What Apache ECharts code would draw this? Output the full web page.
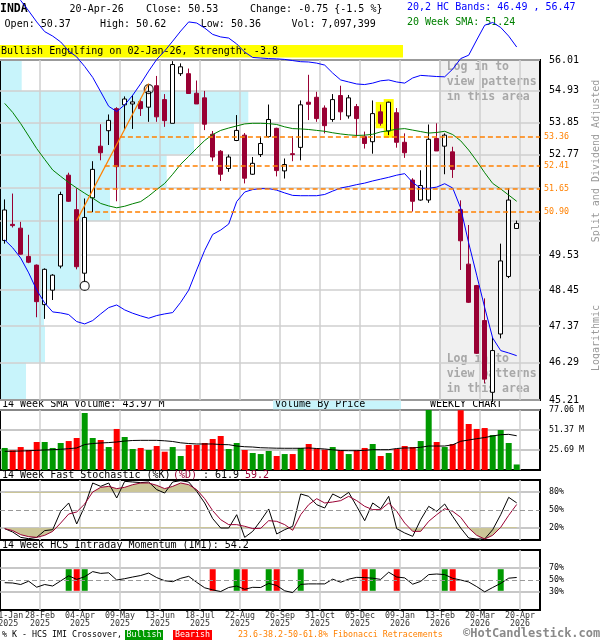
<!DOCTYPE html>
<html>
<head>
<meta charset="utf-8">
<script src="https://cdn.jsdelivr.net/npm/echarts@6/dist/echarts.min.js"></script>
<style>
  html, body { margin: 0; padding: 0; background: #fff; }
  #chart { width: 600px; height: 640px; }
</style>
</head>
<body>
<div id="chart"></div>
<script>
// ---------------- data: INDA weekly, 27-Jan-2025 .. 20-Apr-2026 ----------------
const openP = [49.99, 50.50, 50.38, 49.49, 49.22, 48.01, 48.45, 49.19, 52.09, 50.97,
  48.97, 51.35, 53.05, 53.57, 54.32, 54.45, 54.48, 54.56, 54.37, 55.11,
  54.63, 53.82, 55.53, 55.53, 54.85, 54.69, 53.45, 52.88, 52.31, 53.24,
  53.42, 52.12, 52.77, 53.37, 53.65, 52.23, 52.80, 53.01, 54.54, 54.71,
  54.34, 53.95, 54.77, 54.07, 54.39, 53.37, 53.20, 54.21, 53.56, 54.18,
  53.18, 51.93, 51.28, 51.28, 53.31, 53.05, 52.86, 50.97, 49.25, 48.59,
  47.53, 45.43, 47.13, 48.87, 50.37];
const highP = [51.30, 51.49, 50.58, 50.17, 49.24, 49.12, 48.94, 51.55, 52.17, 51.66,
  51.33, 52.55, 53.79, 54.12, 54.37, 54.74, 54.79, 54.67, 55.17, 55.45,
  54.82, 55.97, 55.89, 55.71, 55.29, 54.93, 53.56, 52.92, 52.77, 54.10,
  53.49, 52.69, 53.37, 54.46, 53.67, 52.64, 53.39, 54.60, 55.49, 54.90,
  54.43, 54.82, 55.11, 54.79, 54.48, 53.54, 54.60, 54.46, 54.56, 54.34,
  53.48, 51.99, 52.25, 53.78, 53.82, 53.48, 53.03, 51.27, 50.48, 48.61,
  48.20, 47.03, 49.89, 51.66, 50.62];
const lowP = [49.89, 50.40, 49.55, 49.28, 47.63, 47.58, 48.15, 49.12, 51.22, 49.09,
  48.71, 50.89, 52.58, 53.09, 51.24, 53.59, 53.63, 54.07, 53.87, 53.87,
  53.70, 53.82, 55.45, 54.84, 54.48, 53.59, 52.55, 51.90, 52.20, 53.22,
  51.82, 52.10, 52.69, 53.33, 52.05, 51.98, 52.55, 52.58, 53.93, 53.87,
  53.48, 53.87, 53.93, 53.98, 53.37, 52.97, 52.80, 53.74, 53.42, 53.00,
  52.66, 50.91, 51.26, 51.19, 52.89, 52.12, 52.00, 49.07, 48.06, 46.54,
  45.69, 45.15, 47.00, 48.82, 50.36];
const closeP = [50.96, 50.46, 49.56, 49.31, 48.10, 49.09, 48.91, 51.46, 51.24, 49.17,
  50.72, 52.28, 52.83, 53.92, 52.37, 54.65, 54.55, 54.32, 54.90, 54.04,
  53.91, 55.85, 55.77, 54.84, 54.48, 53.79, 52.69, 52.12, 52.69, 53.58,
  51.99, 52.48, 53.14, 53.95, 52.24, 52.44, 52.77, 54.45, 54.47, 53.98,
  53.74, 54.63, 54.21, 54.69, 53.98, 53.14, 54.15, 53.82, 54.54, 53.18,
  52.83, 51.24, 51.75, 53.28, 52.89, 53.42, 52.28, 49.98, 48.08, 46.56,
  45.81, 46.64, 49.35, 51.28, 50.53];
// weekly volume, millions of shares
const volumeM = [28.3, 25.3, 29.5, 25.7, 36.0, 36.0, 28.3, 34.7, 37.2, 41.1,
  73.2, 41.1, 38.5, 29.5, 52.7, 42.4, 27.0, 28.3, 25.7, 30.8,
  23.5, 29.5, 18.0, 32.1, 32.1, 34.7, 39.8, 43.7, 27.0, 34.7,
  25.7, 21.8, 20.5, 24.4, 18.0, 20.5, 20.5, 28.3, 33.4, 27.4,
  26.1, 29.5, 25.3, 20.5, 25.3, 28.3, 33.4, 18.0, 21.8, 27.0,
  30.8, 29.5, 37.2, 77.06, 36.0, 29.5, 33.4, 76.8, 59.1, 52.7,
  53.9, 44.9, 51.4, 34.7, 7.097399];
const volumeSma14 = [24.0, 24.1, 24.4, 24.7, 25.3, 25.7, 26.1, 26.6, 27.4, 28.3,
  32.7, 34.0, 34.7, 35.2, 36.0, 37.2, 37.9, 38.1, 38.1, 38.1,
  37.5, 36.6, 34.9, 34.0, 33.4, 33.4, 33.4, 32.7, 32.5, 30.8,
  29.9, 29.5, 28.6, 28.3, 28.0, 27.9, 27.9, 27.9, 28.3, 27.6,
  27.0, 25.9, 25.0, 24.8, 24.8, 25.3, 26.1, 26.1, 26.1, 27.6,
  28.3, 28.3, 29.2, 30.8, 30.8, 30.8, 32.4, 36.9, 38.5, 40.2,
  41.7, 43.7, 45.3, 45.8, 43.97];
const hcUpper = [58.94, 58.54, 58.15, 57.77, 57.37, 57.02, 56.86, 56.65, 56.33, 56.12,
  55.78, 55.40, 54.90, 54.40, 54.22, 54.45, 54.78, 55.18, 55.62, 56.03,
  56.33, 56.68, 57.04, 57.37, 57.33, 57.15, 56.92, 56.83, 56.79, 56.58,
  56.29, 56.10, 56.08, 56.06, 56.05, 56.03, 55.99, 55.95, 55.94, 55.90,
  55.83, 55.55, 55.31, 55.24, 55.17, 55.15, 55.20, 55.28, 55.31, 55.24,
  55.20, 55.38, 55.47, 55.45, 55.43, 55.42, 55.69, 56.06, 56.18, 56.72,
  57.25, 57.35, 57.17, 56.86, 56.47];
const hcLower = [50.01, 49.76, 49.44, 48.98, 48.45, 48.06, 47.79, 47.76, 47.71, 47.50,
  47.43, 47.53, 47.73, 47.92, 48.00, 47.85, 47.75, 47.67, 47.60, 47.68,
  47.73, 47.77, 48.08, 48.45, 49.07, 49.68, 50.18, 50.32, 50.51, 51.23,
  51.54, 51.62, 51.65, 51.65, 51.60, 51.51, 51.43, 51.42, 51.42, 51.42,
  51.46, 51.57, 51.67, 51.72, 51.78, 51.83, 51.90, 51.96, 52.02, 52.09,
  52.14, 51.85, 51.66, 51.66, 51.70, 51.81, 51.67, 51.02, 49.91, 48.91,
  47.92, 47.01, 46.64, 46.57, 46.49];
const sma20 = [54.50, 54.19, 53.81, 53.39, 52.97, 52.61, 52.26, 52.05, 51.85, 51.67,
  51.50, 51.34, 51.17, 51.09, 51.03, 51.08, 51.16, 51.23, 51.41, 51.62,
  51.82, 52.12, 52.45, 52.71, 52.98, 53.24, 53.44, 53.58, 53.66, 53.73,
  53.80, 53.82, 53.82, 53.81, 53.78, 53.70, 53.64, 53.63, 53.61, 53.58,
  53.55, 53.50, 53.46, 53.43, 53.41, 53.42, 53.45, 53.53, 53.57, 53.62,
  53.64, 53.59, 53.54, 53.49, 53.51, 53.55, 53.44, 53.23, 52.92, 52.56,
  52.17, 51.82, 51.64, 51.44, 51.24];
const stochK = [18.9, 13.3, 4.4, 2.2, 4.4, 15.6, 17.2, 47.8, 61.7, 26.7,
  56.1, 95.0, 89.4, 95.0, 70.0, 97.8, 96.7, 95.6, 96.7, 84.0,
  78.3, 96.7, 98.9, 96.7, 81.1, 61.7, 35.6, 20.0, 20.0, 42.2,
  4.4, 14.4, 32.2, 51.7, 10.0, 17.2, 22.8, 76.7, 72.8, 58.9,
  53.3, 76.7, 70.0, 79.4, 56.1, 32.2, 61.7, 52.2, 72.8, 18.9,
  11.7, 6.1, 33.9, 56.1, 47.8, 60.0, 39.4, 20.0, 3.3, 1.7,
  1.7, 17.2, 42.2, 71.1, 61.9];
const stochD = [18.9, 15.6, 8.9, 5.6, 4.4, 7.8, 14.4, 28.3, 43.3, 46.7,
  60.0, 80.0, 87.8, 89.4, 85.6, 87.8, 92.2, 95.0, 95.0, 91.1,
  85.6, 89.4, 95.0, 92.2, 83.9, 68.9, 48.9, 33.9, 25.6, 25.6,
  22.8, 19.0, 19.5, 32.2, 31.1, 25.6, 16.1, 42.2, 58.9, 68.9,
  61.7, 63.3, 65.6, 72.8, 65.6, 56.1, 50.6, 50.6, 61.7, 47.8,
  28.3, 14.4, 14.4, 31.1, 42.2, 52.2, 47.8, 37.8, 20.0, 7.8,
  1.7, 7.8, 21.1, 41.1, 59.2];
const imi = [45.5, 45.0, 42.5, 48.0, 38.0, 42.5, 40.0, 48.5, 57.0, 51.0,
  55.5, 64.0, 61.0, 62.0, 50.0, 52.2, 55.0, 57.5, 61.6, 54.0,
  48.8, 47.2, 52.8, 56.1, 46.1, 37.0, 33.5, 30.8, 37.5, 40.0,
  34.5, 37.8, 37.5, 44.4, 40.8, 32.0, 29.0, 42.7, 43.5, 43.5,
  43.5, 51.4, 46.3, 51.4, 54.4, 54.0, 53.0, 51.0, 63.0, 55.0,
  53.5, 43.0, 47.7, 59.0, 60.0, 59.0, 52.8, 50.0, 46.7, 39.0,
  30.3, 37.5, 44.4, 53.0, 54.2];
// %K / IMI crossover weeks
const crossBull = [8, 10, 29, 33, 37, 46, 55, 62];
const crossBear = [9, 26, 30, 34, 45, 49, 56];
// candles of the flagged pattern, swing points and retracement levels
const patternWeeks = [47, 48];
const swingPoints = [[10, 48.58], [18, 54.99]];
const trendLine = [[9, 50.62], [18, 55.19]];
const fibLevels = [53.36, 52.41, 51.65, 50.90];
const fibStartWeek = [14.4, 12.5, 11.5, 10.3];
// volume by price, one zone between each pair of price ticks (top zone first), millions
const vbpVolumeM = [48.6, 556.4, 434.7, 373.5, 246.5, 179.3, 179.3, 98.6, 100.8, 58.3];
// axis ticks
const priceTicks = [56.01, 54.93, 53.85, 52.77, 51.69, 50.61, 49.53, 48.45, 47.37, 46.29, 45.21];
const priceLabels = [56.01, 54.93, 53.85, 52.77, 49.53, 48.45, 47.37, 46.29, 45.21];
const volTicks = [25.69, 51.37, 77.06];
const stochTicks = [20, 50, 80];
const imiTicks = [30, 50, 70];
const xTickDates = ['31-Jan', '28-Feb', '04-Apr', '09-May', '13-Jun', '18-Jul', '22-Aug',
  '26-Sep', '31-Oct', '05-Dec', '09-Jan', '13-Feb', '20-Mar', '20-Apr'];
const xTickYears = ['2025', '2025', '2025', '2025', '2025', '2025', '2025',
  '2025', '2025', '2025', '2026', '2026', '2026', '2026'];
const lastWeekLabel = '20-Apr-26';
const patternText = 'Bullish Engulfing on 02-Jan-26, Strength: -3.8';

// ---------------- layout / style ----------------
const MONO = '"DejaVu Sans Mono", "Liberation Mono", monospace';
const DOWN = '#990033', BAND = '#0000ff', SMA = '#008000', FIB = '#ff8000';
const VUP = '#009900', VDN = '#ff0000', VBP = '#c8f4fb', KHAKI = '#cbc597';
const GRID_C = '#cfcfcf', LEVEL_C = '#b4b4b4';
const X_MIN = -0.5875, X_MAX = 66.9125;            // 8 px per week over 540 px
const W = 540;
const ln = Math.log;
const N = closeP.length;
const last = N - 1;

// vertical grid every 5 weeks, first label at the left edge
const gridWeeks = [];
for (let k = 1; k <= 13; k++) gridWeeks.push(X_MIN + 5 * k);
const labelWeeks = [0.45].concat(gridWeeks);
const loginStart = gridWeeks[10];

function xLabel(v) {
  let best = 0, d = 1e9;
  labelWeeks.forEach((w, k) => { const dd = Math.abs(w - v); if (dd < d) { d = dd; best = k; } });
  return xTickDates[best] + '\n' + xTickYears[best];
}

function xAxisFor(gridIndex, opts) {
  opts = opts || {};
  return {
    type: 'value', gridIndex: gridIndex, min: X_MIN, max: X_MAX,
    show: opts.hidden ? false : true,
    axisLine: { show: false },
    axisTick: { show: false, customValues: gridWeeks },
    splitLine: { show: true, lineStyle: { color: GRID_C, width: 1.5 } },
    axisLabel: opts.labels ? {
      show: true, customValues: labelWeeks, formatter: xLabel,
      fontFamily: MONO, fontSize: 8.3, lineHeight: 8, margin: 2, color: '#333'
    } : { show: false }
  };
}

function gridRect(top, height, show) {
  return { left: 0, top: top, width: W, height: height, show: !!show,
    borderColor: '#000', borderWidth: 2, containLabel: false, outerBoundsMode: 'none' };
}

function txt(x, y, text, o) {
  o = o || {};
  return {
    type: 'text', x: x, y: y, silent: true, rotation: o.rotation || 0,
    style: {
      text: text, fill: o.color || '#000',
      font: (o.weight || 'normal') + ' ' + (o.size || 10) + 'px ' + MONO,
      align: o.align || 'left', verticalAlign: 'middle'
    }
  };
}

// ---------------- series data ----------------
const candleData = closeP.map((c, i) => [i, ln(openP[i]), ln(c), ln(lowP[i]), ln(highP[i])]);
const lineOf = (arr, f) => arr.map((v, i) => [i, f ? f(v) : v]);
const volData = volumeM.map((v, i) => ({
  value: [i, v], itemStyle: { color: closeP[i] >= openP[i] ? VUP : VDN }
}));
const vbpData = vbpVolumeM.map((v, k) => [ln(priceTicks[k + 1]), ln(priceTicks[k]), v]);
const crossData = crossBull.map(i => [i, 1]).concat(crossBear.map(i => [i, -1]));

// ---------------- header values ----------------
const chg = closeP[last] - closeP[last - 1];
const chgPct = chg / closeP[last - 1] * 100;
const volText = Math.round(volumeM[last] * 1e6).toLocaleString('en-US');

const option = {
  animation: false,
  backgroundColor: '#fff',
  grid: [
    gridRect(60, 340, true),   // 0 price
    gridRect(60, 340, false),  // 1 volume by price overlay
    gridRect(410, 60, true),   // 2 volume
    gridRect(480, 60, true),   // 3 stochastic
    gridRect(480, 12, false),  // 4 stochastic 80..100 shading
    gridRect(528, 12, false),  // 5 stochastic 0..20 shading
    gridRect(550, 60, true)    // 6 IMI
  ],
  xAxis: [
    xAxisFor(0),
    { type: 'value', gridIndex: 1, min: 0, max: 1210, show: false },
    xAxisFor(2),
    xAxisFor(3),
    xAxisFor(4, { hidden: true }),
    xAxisFor(5, { hidden: true }),
    xAxisFor(6, { labels: true })
  ],
  yAxis: [
    {
      type: 'value', gridIndex: 0, position: 'right', min: ln(45.21), max: ln(56.01),
      axisLine: { show: false },
      axisTick: { show: false, customValues: priceTicks.map(ln) },
      splitLine: { show: true, lineStyle: { color: GRID_C, width: 1.5 } },
      axisLabel: {
        show: true, customValues: priceLabels.map(ln),
        formatter: v => Math.exp(v).toFixed(2),
        fontFamily: MONO, fontSize: 10, color: '#000', margin: 9, padding: [0, 0, 6, 0]
      }
    },
    { type: 'value', gridIndex: 1, min: ln(45.21), max: ln(56.01), show: false },
    {
      type: 'value', gridIndex: 2, position: 'right', min: 0, max: 77.06,
      axisLine: { show: false },
      axisTick: { show: false, customValues: volTicks },
      splitLine: { show: true, lineStyle: { color: LEVEL_C, width: 1.5 } },
      axisLabel: { show: true, customValues: volTicks, formatter: v => v.toFixed(2) + ' M',
        fontFamily: MONO, fontSize: 8.3, color: '#000', margin: 9 }
    },
    {
      type: 'value', gridIndex: 3, position: 'right', min: 0, max: 100,
      axisLine: { show: false },
      axisTick: { show: false, customValues: [stochTicks[0], stochTicks[2]] },
      splitLine: { show: true, lineStyle: { color: LEVEL_C, width: 1.5 } },
      axisLabel: { show: true, customValues: stochTicks, formatter: v => v + '%',
        fontFamily: MONO, fontSize: 8.3, color: '#000', margin: 9 }
    },
    { type: 'value', gridIndex: 4, min: 80, max: 100, show: false },
    { type: 'value', gridIndex: 5, min: 0, max: 20, show: false },
    {
      type: 'value', gridIndex: 6, position: 'right', min: 0, max: 100,
      axisLine: { show: false },
      axisTick: { show: false, customValues: [imiTicks[0], imiTicks[2]] },
      splitLine: { show: true, lineStyle: { color: LEVEL_C, width: 1.5 } },
      axisLabel: { show: true, customValues: imiTicks, formatter: v => v + '%',
        fontFamily: MONO, fontSize: 8.3, color: '#000', margin: 9 }
    }
  ],
  series: [
    // volume by price zones
    {
      type: 'custom', xAxisIndex: 1, yAxisIndex: 1, z: -1, silent: true,
      encode: { x: 2, y: [0, 1] },
      data: vbpData,
      renderItem: function (params, api) {
        const p0 = api.coord([0, api.value(1)]);
        const p1 = api.coord([api.value(2), api.value(0)]);
        return { type: 'rect', shape: { x: p0[0], y: p0[1], width: p1[0] - p0[0], height: p1[1] - p0[1] },
          style: { fill: VBP } };
      }
    },
    // members-only area on the right
    {
      type: 'custom', xAxisIndex: 0, yAxisIndex: 0, z: -1, silent: true,
      data: [[loginStart, ln(56.01)]],
      renderItem: function (params, api) {
        const p = api.coord([api.value(0), api.value(1)]);
        const cs = params.coordSys;
        return { type: 'group', children: [
          { type: 'rect', shape: { x: p[0], y: cs.y, width: cs.x + cs.width - p[0], height: cs.height },
            style: { fill: '#f0f0f0' } },
          { type: 'line', shape: { x1: p[0], y1: cs.y, x2: p[0], y2: cs.y + cs.height },
            style: { stroke: '#999', lineWidth: 1 } }
        ] };
      }
    },
    // pattern highlight
    {
      type: 'custom', xAxisIndex: 0, yAxisIndex: 0, z: 1, silent: true,
      data: patternWeeks.map(i => [i, ln(highP[i]), ln(lowP[i])]),
      renderItem: function (params, api) {
        const hi = api.coord([api.value(0), api.value(1)]);
        const lo = api.coord([api.value(0), api.value(2)]);
        return { type: 'rect', shape: { x: hi[0] - 5, y: hi[1] - 2.6, width: 10, height: lo[1] - hi[1] + 5.2 },
          style: { fill: '#ffff00' } };
      }
    },
    // Bollinger-type bands and SMA
    { type: 'line', xAxisIndex: 0, yAxisIndex: 0, data: lineOf(hcUpper, ln), symbol: 'none', clip: false,
      lineStyle: { color: BAND, width: 1 }, silent: true },
    { type: 'line', xAxisIndex: 0, yAxisIndex: 0, data: lineOf(hcLower, ln), symbol: 'none',
      lineStyle: { color: BAND, width: 1 }, silent: true },
    { type: 'line', xAxisIndex: 0, yAxisIndex: 0, data: lineOf(sma20, ln), symbol: 'none',
      lineStyle: { color: SMA, width: 1 }, silent: true },
    // swing trend line with Fibonacci retracements
    {
      type: 'line', xAxisIndex: 0, yAxisIndex: 0, symbol: 'none', clip: false, silent: true,
      data: trendLine.map(p => [p[0], ln(p[1])]),
      lineStyle: { color: FIB, width: 1.2 },
      markLine: {
        silent: true, symbol: ['none', 'none'], animation: false,
        lineStyle: { color: FIB, width: 1.6, type: [5, 3] },
        label: { show: true, position: 'end', distance: 4, formatter: p => p.value.toFixed(2),
          color: FIB, fontFamily: MONO, fontSize: 8.3 },
        data: fibLevels.map((p, k) => [
          { coord: [fibStartWeek[k], ln(p)], value: p },
          { coord: [X_MAX, ln(p)] }
        ])
      }
    },
    // candles
    {
      type: 'candlestick', xAxisIndex: 0, yAxisIndex: 0, barWidth: 5, silent: true,
      data: candleData,
      itemStyle: { color: '#ffffff', color0: DOWN, borderColor: '#000', borderColor0: DOWN, borderWidth: 1 }
    },
    // swing markers
    {
      type: 'scatter', xAxisIndex: 0, yAxisIndex: 0, symbol: 'circle', symbolSize: 9, silent: true,
      data: swingPoints.map(p => [p[0], ln(p[1])]),
      itemStyle: { color: 'rgba(0,0,0,0)', borderColor: '#000', borderWidth: 1.2 }
    },
    // volume
    { type: 'bar', xAxisIndex: 2, yAxisIndex: 2, barWidth: 6, data: volData, silent: true },
    { type: 'line', xAxisIndex: 2, yAxisIndex: 2, data: lineOf(volumeSma14), symbol: 'none',
      lineStyle: { color: '#000', width: 1 }, silent: true },
    // stochastic shading beyond 80 / 20
    { type: 'line', xAxisIndex: 4, yAxisIndex: 4, data: lineOf(stochD), symbol: 'none', silent: true, z: 1,
      lineStyle: { opacity: 0 }, areaStyle: { color: KHAKI, opacity: 1, origin: 'start' } },
    { type: 'line', xAxisIndex: 5, yAxisIndex: 5, data: lineOf(stochD), symbol: 'none', silent: true, z: 1,
      lineStyle: { opacity: 0 }, areaStyle: { color: KHAKI, opacity: 1, origin: 'end' } },
    // stochastic lines
    { type: 'line', xAxisIndex: 3, yAxisIndex: 3, data: lineOf(stochK), symbol: 'none', silent: true,
      lineStyle: { color: '#000', width: 1 },
      markLine: { silent: true, symbol: ['none', 'none'], label: { show: false },
        lineStyle: { color: '#999', width: 1, type: [5, 3] }, data: [{ yAxis: stochTicks[1] }] } },
    { type: 'line', xAxisIndex: 3, yAxisIndex: 3, data: lineOf(stochD), symbol: 'none', silent: true,
      lineStyle: { color: DOWN, width: 1 } },
    // IMI crossovers and IMI line
    {
      type: 'custom', xAxisIndex: 6, yAxisIndex: 6, silent: true, data: crossData,
      renderItem: function (params, api) {
        const t = api.coord([api.value(0), 68]);
        const b = api.coord([api.value(0), 32]);
        return { type: 'rect', shape: { x: t[0] - 3, y: t[1], width: 6, height: b[1] - t[1] },
          style: { fill: api.value(1) > 0 ? VUP : VDN } };
      }
    },
    { type: 'line', xAxisIndex: 6, yAxisIndex: 6, data: lineOf(imi), symbol: 'none', silent: true,
      lineStyle: { color: '#000', width: 1 },
      markLine: { silent: true, symbol: ['none', 'none'], label: { show: false },
        lineStyle: { color: '#999', width: 1, type: [5, 3] }, data: [{ yAxis: imiTicks[1] }] } }
  ],
  graphic: { elements: [
    // header
    txt(0, 9, 'INDA', { weight: 'bold', size: 11.5 }),
    txt(69.6, 9, lastWeekLabel),
    txt(146, 9, 'Close: ' + closeP[last].toFixed(2)),
    txt(250, 9, 'Change: ' + chg.toFixed(2) + ' {' + chgPct.toFixed(1) + ' %}'),
    txt(4.6, 24, 'Open: ' + openP[last].toFixed(2)),
    txt(100, 24, 'High: ' + highP[last].toFixed(2)),
    txt(200.8, 24, 'Low: ' + lowP[last].toFixed(2)),
    txt(291.5, 24, 'Vol: ' + volText),
    txt(407, 7, '20,2 HC Bands: ' + hcLower[last].toFixed(2) + ' , ' + hcUpper[last].toFixed(2), { color: BAND }),
    txt(407, 22, '20 Week SMA: ' + sma20[last].toFixed(2), { color: SMA }),
    { type: 'rect', silent: true, shape: { x: 0, y: 45, width: 403, height: 12.5 }, style: { fill: '#ffff00' } },
    txt(1, 51.5, patternText),
    // member area notes
    txt(446.7, 67.3, 'Log in to', { color: '#a8a8a8', weight: 'bold', size: 11.5 }),
    txt(446.7, 82.3, 'view patterns', { color: '#a8a8a8', weight: 'bold', size: 11.5 }),
    txt(446.7, 97.3, 'in this area', { color: '#a8a8a8', weight: 'bold', size: 11.5 }),
    txt(446.7, 359, 'Log in to', { color: '#a8a8a8', weight: 'bold', size: 11.5 }),
    txt(446.7, 374, 'view patterns', { color: '#a8a8a8', weight: 'bold', size: 11.5 }),
    txt(446.7, 389, 'in this area', { color: '#a8a8a8', weight: 'bold', size: 11.5 }),
    // right side notes
    txt(596, 161, 'Split and Dividend Adjusted', { color: '#999', align: 'center', rotation: Math.PI / 2 }),
    txt(596, 338, 'Logarithmic', { color: '#999', align: 'center', rotation: Math.PI / 2 }),
    // panel titles
    txt(2, 404.5, '14 Week SMA Volume: ' + volumeSma14[last].toFixed(2) + ' M'),
    { type: 'rect', silent: true, shape: { x: 273, y: 400, width: 128, height: 9.5 }, style: { fill: VBP } },
    txt(275, 404.5, 'Volume By Price'),
    txt(430, 404.5, 'WEEKLY CHART'),
    txt(2, 475.5, '14 Week Fast Stochastic (%K)'),
    txt(173, 475.5, '(%D)', { color: DOWN }),
    txt(197, 475.5, ' : ' + stochK[last].toFixed(1)),
    txt(245, 475.5, stochD[last].toFixed(1), { color: DOWN }),
    txt(2, 545.5, '14 Week HCS Intraday Momentum (IMI): ' + imi[last].toFixed(1)),
    // footer legend
    txt(2, 635, '% K - HCS IMI Crossover,', { size: 8.3 }),
    { type: 'rect', silent: true, shape: { x: 125, y: 630, width: 38, height: 10 }, style: { fill: VUP } },
    txt(144, 635, 'Bullish', { size: 8.3, color: '#fff', align: 'center' }),
    { type: 'rect', silent: true, shape: { x: 173, y: 630, width: 39, height: 10 }, style: { fill: VDN } },
    txt(192.5, 635, 'Bearish', { size: 8.3, color: '#fff', align: 'center' }),
    txt(238, 635, '23.6-38.2-50-61.8% Fibonacci Retracements', { size: 8.3, color: FIB }),
    txt(463, 634, '\u00A9HotCandlestick.com', { size: 12, color: '#8a8a8a', weight: 'bold' })
  ] }
};

const chart = echarts.init(document.getElementById('chart'), null, { renderer: 'canvas' });
chart.setOption(option);
</script>
</body>
</html>
